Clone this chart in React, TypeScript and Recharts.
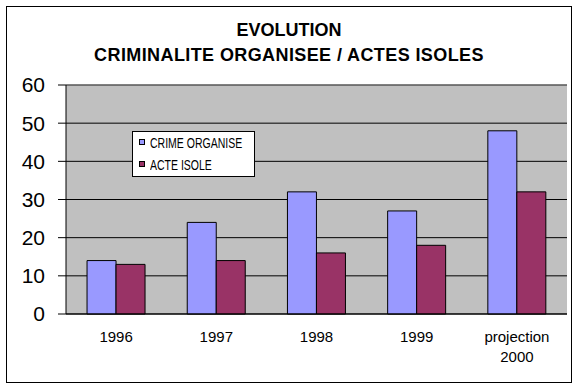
import React from 'react';
import { BarChart, Bar, XAxis, YAxis, CartesianGrid, Legend, ReferenceLine } from 'recharts';

const categories = ['1996', '1997', '1998', '1999', 'projection 2000'];
const crimeOrganise = [14, 24, 32, 27, 48];
const acteIsole = [13, 14, 16, 18, 32];
const yTicks = [0, 10, 20, 30, 40, 50, 60];
const boundaryTicks = [0, 1, 2, 3, 4, 5];
const seriesNames = ['CRIME ORGANISE', 'ACTE ISOLE'];
const seriesColors = ['#9999FF', '#993366'];
const titleLines = ['EVOLUTION', 'CRIMINALITE ORGANISEE / ACTES ISOLES'];

const data = categories.map((c, i) => ({ category: c, crime: crimeOrganise[i], acte: acteIsole[i] }));

const FONT = '"Liberation Sans", Arial, sans-serif';

function XTick(props: any) {
  const { x, y, payload } = props;
  const lines = String(payload.value).split(' ');
  return (
    <g>
      {lines.map((l, i) => (
        <text key={i} x={x} y={y + 27.7 + i * 20} textAnchor="middle" fontSize={15} fontFamily={FONT} fill="#000">
          {l}
        </text>
      ))}
    </g>
  );
}

function LegendBox() {
  return (
    <div
      style={{
        width: 123,
        height: 46,
        boxSizing: 'border-box',
        border: '1px solid #000',
        background: '#fff',
        position: 'relative',
        fontFamily: FONT,
      }}
    >
      {seriesNames.map((name, i) => (
        <React.Fragment key={name}>
          <div
            style={{
              position: 'absolute',
              left: 6,
              top: 7 + i * 22,
              width: 6,
              height: 6,
              boxSizing: 'border-box',
              border: '1px solid #000',
              background: seriesColors[i],
            }}
          />
          <div
            style={{
              position: 'absolute',
              left: 17,
              top: 3.5 + i * 22,
              fontSize: 14,
              lineHeight: '14px',
              whiteSpace: 'nowrap',
              transform: 'scaleX(0.75)',
              transformOrigin: 'left center',
              color: '#000',
            }}
          >
            {name}
          </div>
        </React.Fragment>
      ))}
    </div>
  );
}

export default function App() {
  return (
    <div style={{ position: 'absolute', left: 0, top: 0, width: 578, height: 389, background: '#fff' }}>
      <BarChart
        width={578}
        height={389}
        data={data}
        margin={{ top: 85, right: 11, bottom: 0, left: 0 }}
        barCategoryGap="21%"
        barGap={0}
      >
        <CartesianGrid vertical={false} stroke="#000" fill="#C0C0C0" fillOpacity={1} />
        <XAxis
          xAxisId="grid"
          type="number"
          domain={[0, 5]}
          ticks={boundaryTicks}
          allowDataOverflow
          height={0}
          axisLine={false}
          tick={false}
          tickLine={{ stroke: '#000' }}
          tickSize={5}
        />
        <XAxis
          dataKey="category"
          height={75}
          axisLine={{ stroke: '#000' }}
          tickLine={false}
          tickSize={0}
          tickMargin={0}
          tick={<XTick />}
          interval={0}
        />
        <YAxis
          domain={[0, 60]}
          ticks={yTicks}
          width={66}
          axisLine={{ stroke: '#000' }}
          tickLine={{ stroke: '#000' }}
          tickSize={8}
          tickMargin={13}
          tick={{ fontSize: 21, fontFamily: FONT, fill: '#000' }}
        />
        <ReferenceLine y={60} stroke="#808080" />
        <ReferenceLine xAxisId="grid" x={5} stroke="#808080" />
        <Bar dataKey="crime" name={seriesNames[0]} fill={seriesColors[0]} stroke="#000" strokeWidth={1} isAnimationActive={false} />
        <Bar dataKey="acte" name={seriesNames[1]} fill={seriesColors[1]} stroke="#000" strokeWidth={1} isAnimationActive={false} />
        <Legend
          layout="vertical"
          align="center"
          verticalAlign="middle"
          content={<LegendBox />}
          wrapperStyle={{ left: 132, top: 131, width: 123, height: 46 }}
        />
      </BarChart>
      <svg
        width={578}
        height={389}
        style={{ position: 'absolute', left: 0, top: 0, pointerEvents: 'none' }}
      >
        <rect x={6.5} y={6.5} width={565} height={376} fill="none" stroke="#000" strokeWidth={1} />
        <text x={289} y={36} textAnchor="middle" fontSize={18} fontWeight="bold" fontFamily={FONT} fill="#000">
          {titleLines[0]}
        </text>
        <text x={289} y={61} textAnchor="middle" fontSize={18} fontWeight="bold" fontFamily={FONT} fill="#000" letterSpacing={0.4}>
          {titleLines[1]}
        </text>
      </svg>
    </div>
  );
}
